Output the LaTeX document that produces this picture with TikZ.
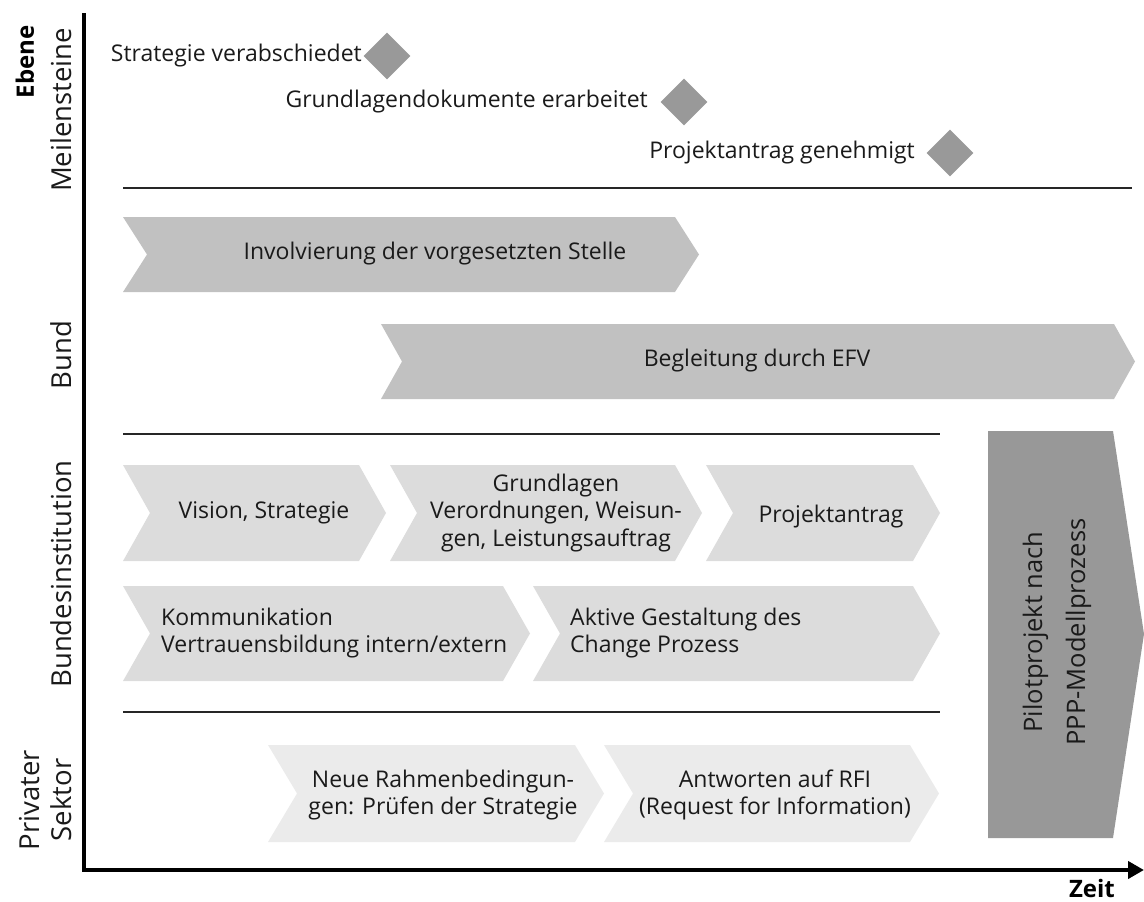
\documentclass[tikz,border=0pt]{standalone}
\usepackage{fontspec}
\setmainfont{Open Sans}
\usetikzlibrary{arrows.meta}

\definecolor{milegray}{HTML}{999999}
\definecolor{bundgray}{HTML}{C1C1C1}
\definecolor{instgray}{HTML}{DCDCDC}
\definecolor{privgray}{HTML}{EBEBEB}
\definecolor{pilotgray}{HTML}{989898}
\definecolor{inkgray}{HTML}{1A1A1A}

% chevron: left x, top y, right x, bottom y, notch depth, fill colour
\newcommand\chevbox[6]{%
  \fill[#6] (#1,#2) -- ({#3-#5},#2) -- (#3,{(#2+#4)/2}) -- ({#3-#5},#4)
    -- (#1,#4) -- ({#1+#5},{(#2+#4)/2}) -- cycle;}

\begin{document}
\begin{tikzpicture}[x=1pt,y=-1pt,
  txt/.style={font=\fontsize{23}{27.5}\selectfont, text=inkgray, inner sep=0pt},
  axislabel/.style={font=\fontsize{27.5}{32}\selectfont, text=inkgray, rotate=90, inner sep=0pt, align=center},
  axistitle/.style={font=\fontsize{24}{27}\selectfont\bfseries, inner sep=0pt},
  sepline/.style={line width=1.2pt, draw=black!85},
  milestone/.style={fill=milegray, minimum size=33pt, inner sep=0pt, rotate=45},
  axisline/.style={line width=4pt, draw=black}]
\useasboundingbox (0,0) rectangle (1144,902);

% axes
\coordinate (top) at (84,13);
\coordinate (origin) at (84,870);
\coordinate (tend) at (1144,870);
\draw[axisline] (top) -- (origin);
\draw[axisline, -{Triangle[length=16pt,width=17pt]}] ([xshift=-2pt]origin) -- (tend);

% axis titles and level labels
\node[axistitle, rotate=90] (ebene) at (25,62) {Ebene};
\node[axistitle] (zeit) at (1092,888) {Zeit};
\node[axislabel] (lmeil) at (61,110) {Meilensteine};
\node[axislabel] (lbund) at (61,355) {Bund};
\node[axislabel] (linst) at (61,574) {Bundesinstitution};
\node[axislabel] (lpriv) at (46,800) {Privater\\Sektor};

% separators between levels
\coordinate (s1a) at (123,188); \coordinate (s1b) at (1132,188);
\coordinate (s2a) at (123,434); \coordinate (s2b) at (940,434);
\coordinate (s3a) at (123,712); \coordinate (s3b) at (940,712);
\draw[sepline] (s1a) -- (s1b);
\draw[sepline] (s2a) -- (s2b);
\draw[sepline] (s3a) -- (s3b);

% milestones
\node[milestone] (m1) at (387,56) {};
\node[txt, anchor=east] (m1t) at (362,56) {Strategie verabschiedet};
\node[milestone] (m2) at (684,102) {};
\node[txt, anchor=east] (m2t) at (648,102) {Grundlagendokumente erarbeitet};
\node[milestone] (m3) at (950,153) {};
\node[txt, anchor=east] (m3t) at (915,153) {Projektantrag genehmigt};

% Bund
\chevbox{123}{217}{699}{292}{24}{bundgray}
\node[txt] (inv) at (435,254) {Involvierung der vorgesetzten Stelle};
\chevbox{381}{324}{1135}{399}{21}{bundgray}
\node[txt] (efv) at (757,361) {Begleitung durch EFV};

% Bundesinstitution
\chevbox{123}{465}{386}{561}{27}{instgray}
\node[txt] (vis) at (264,513) {Vision, Strategie};
\chevbox{390}{465}{702}{561}{27}{instgray}
\node[txt, align=center] (grund) at (556,513) {Grundlagen\\Verordnungen, Weisun-\\gen, Leistungsauftrag};
\chevbox{706}{465}{940}{561}{27}{instgray}
\node[txt] (antrag) at (831,517) {Projektantrag};
\chevbox{123}{586}{530}{681}{27}{instgray}
\node[txt, align=left, anchor=west] (komm) at (161,633) {Kommunikation\\Vertrauensbildung intern/extern};
\chevbox{533}{586}{940}{681}{27}{instgray}
\node[txt, align=left, anchor=west] (change) at (570,633) {Aktive Gestaltung des\\Change Prozess};

% Privater Sektor
\chevbox{268}{745}{604}{842}{29}{privgray}
\node[txt, align=center] (rahmen) at (443,795) {Neue Rahmenbedingun-\\gen: Prüfen der Strategie};
\chevbox{604}{745}{939}{842}{29}{privgray}
\node[txt, align=center] (rfi) at (775,795) {Antworten auf RFI\\(Request for Information)};

% pilot project
\fill[pilotgray] (988,431) -- (1113,431) -- (1144,634) -- (1113,838) -- (988,838) -- cycle;
\node[txt, font=\fontsize{25.5}{43}\selectfont, rotate=90, align=center] (pilot) at (1057,632) {Pilotprojekt nach\\PPP-Modellprozess};
\end{tikzpicture}
\end{document}
